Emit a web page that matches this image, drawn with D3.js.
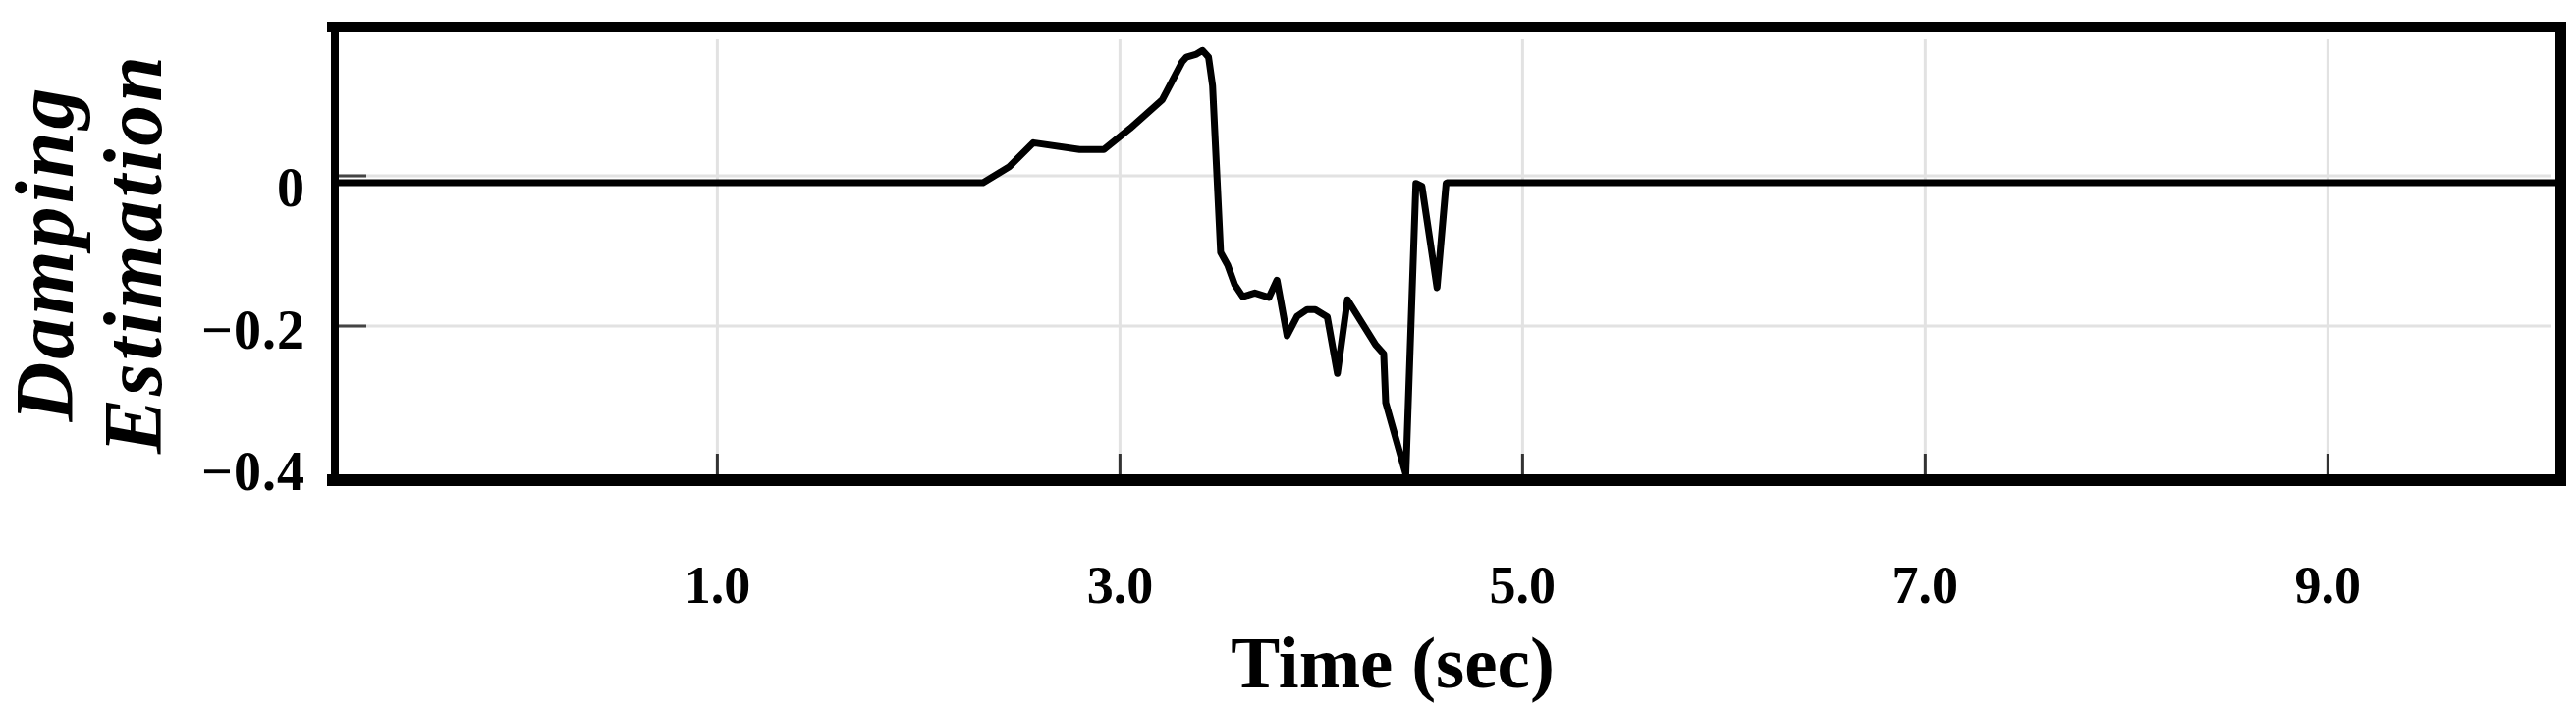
<!DOCTYPE html>
<html><head><meta charset="utf-8">
<script src="https://cdn.jsdelivr.net/npm/d3@7"></script>
<style>body{margin:0;background:#fff}svg{display:block}</style>
</head><body>
<svg id="chart" width="2623" height="722"></svg>
<script>
// ---- data ----
const timeSec = [-0.88, 2.32, 2.45, 2.57, 2.80, 2.92, 3.05, 3.21, 3.31, 3.33, 3.38, 3.41, 3.44, 3.46, 3.50, 3.535, 3.57, 3.61, 3.67, 3.74, 3.78, 3.83, 3.88, 3.93, 3.97, 4.03, 4.08, 4.13, 4.27, 4.31, 4.32, 4.42, 4.47, 4.50, 4.575, 4.62, 4.63, 10.13];
const damping = [-0.009, -0.009, 0.012, 0.044, 0.035, 0.035, 0.063, 0.101, 0.152, 0.158, 0.162, 0.167, 0.158, 0.12, -0.102, -0.119, -0.145, -0.161, -0.156, -0.162, -0.139, -0.213, -0.187, -0.178, -0.178, -0.188, -0.263, -0.165, -0.225, -0.237, -0.302, -0.397, -0.010, -0.014, -0.149, -0.010, -0.009, -0.009];
const xTicks = [1, 3, 5, 7, 9];
const xTickLabels = ["1.0", "3.0", "5.0", "7.0", "9.0"];
const yTicks = [0, -0.2, -0.4];
const yTickLabels = ["0", "\u22120.2", "\u22120.4"];
const xDomain = [-0.88, 10.13];
const yDomain = [-0.4, 0.19];
const xTitle = "Time (sec)";
const yTitleLines = ["Damping", "Estimation"];

// ---- layout ----
const L = 345, R = 2602, T = 33, B = 483;
const svg = d3.select("#chart");
const x = d3.scaleLinear().domain(xDomain).range([L, R]);
const y = d3.scaleLinear().domain(yDomain).range([485, 33.65]);
const serif = "'Liberation Serif', 'Times New Roman', serif";

// gridlines
const grid = svg.append("g");
grid.selectAll("line.vg").data(xTicks).join("line")
  .attr("x1", d => x(d)).attr("x2", d => x(d))
  .attr("y1", 40).attr("y2", B)
  .attr("stroke", "#e2e2e2").attr("stroke-width", 3);
grid.selectAll("line.hg").data(yTicks.filter(d => d > yDomain[0])).join("line")
  .attr("x1", L).attr("x2", R - 4)
  .attr("y1", d => y(d)).attr("y2", d => y(d))
  .attr("stroke", "#e2e2e2").attr("stroke-width", 3);

// inner tick marks
svg.append("g").selectAll("line").data(xTicks).join("line")
  .attr("x1", d => x(d)).attr("x2", d => x(d))
  .attr("y1", B - 21).attr("y2", B)
  .attr("stroke", "#333").attr("stroke-width", 3);
svg.append("g").selectAll("line").data(yTicks).join("line")
  .attr("x1", L).attr("x2", L + 28)
  .attr("y1", d => y(d)).attr("y2", d => y(d))
  .attr("stroke", "#444").attr("stroke-width", 3);

// data line
const line = d3.line().x((d, i) => x(timeSec[i])).y(d => y(d));
svg.append("path").datum(damping)
  .attr("d", line)
  .attr("fill", "none").attr("stroke", "#000")
  .attr("stroke-width", 7).attr("stroke-linejoin", "round");

// frame
const frame = svg.append("g").attr("stroke", "#000");
frame.append("line").attr("x1", 333).attr("x2", 2613).attr("y1", 27.5).attr("y2", 27.5).attr("stroke-width", 11);
frame.append("line").attr("x1", 333).attr("x2", 2613).attr("y1", 489).attr("y2", 489).attr("stroke-width", 12);
frame.append("line").attr("x1", 341).attr("x2", 341).attr("y1", 22).attr("y2", 495).attr("stroke-width", 8);
frame.append("line").attr("x1", 2607.5).attr("x2", 2607.5).attr("y1", 22).attr("y2", 495).attr("stroke-width", 11);

// tick labels
svg.append("g").selectAll("text").data(xTicks).join("text")
  .attr("x", d => x(d)).attr("y", 614)
  .attr("text-anchor", "middle")
  .attr("font-family", serif).attr("font-weight", "bold").attr("font-size", 54)
  .text((d, i) => xTickLabels[i]);
const labelY = d => 191 + (y(d) - y(0)) * 0.945;
svg.append("g").selectAll("text").data(yTicks).join("text")
  .attr("x", 311).attr("y", d => labelY(d))
  .attr("dominant-baseline", "central")
  .attr("text-anchor", "end")
  .attr("font-family", serif).attr("font-weight", "bold").attr("font-size", 56)
  .attr("letter-spacing", 1)
  .text((d, i) => yTickLabels[i]);

// axis titles
svg.append("text").attr("x", 1418).attr("y", 700)
  .attr("text-anchor", "middle")
  .attr("font-family", serif).attr("font-weight", "bold").attr("font-size", 75)
  .text(xTitle);
const yBase = [74, 164];
svg.append("g").selectAll("text").data(yTitleLines).join("text")
  .attr("transform", (d, i) => `translate(${yBase[i]},258) rotate(-90)`)
  .attr("text-anchor", "middle")
  .attr("font-family", serif).attr("font-weight", "bold").attr("font-style", "italic")
  .attr("font-size", 84).attr("letter-spacing", 3)
  .text(d => d);
</script>
</body></html>
